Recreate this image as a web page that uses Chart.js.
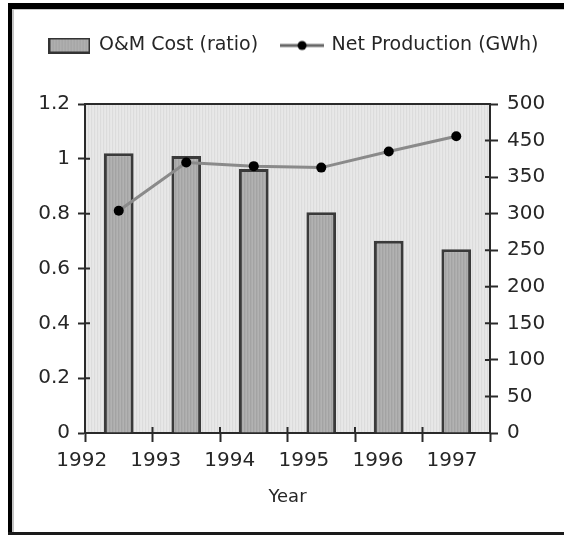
<!DOCTYPE html>
<html><head><meta charset="utf-8">
<script src="https://cdn.jsdelivr.net/npm/chart.js@4.4.1/dist/chart.umd.min.js"></script>
<style>
html,body{margin:0;padding:0;background:#fff;}
#wrap{position:relative;width:564px;height:535px;overflow:hidden;background:#fff;}
#c{position:absolute;left:0;top:0;}
.f{position:absolute;}
</style></head><body>
<div id="wrap">
<canvas id="c" width="564" height="535"></canvas>
<div class="f" style="left:8px;top:3px;width:556px;height:6px;background:#000"></div>
<div class="f" style="left:14px;top:9px;width:550px;height:1px;background:#c8c8c8"></div>
<div class="f" style="left:8px;top:3px;width:4px;height:532px;background:#000"></div>
<div class="f" style="left:12px;top:9px;width:2px;height:523px;background:#c4c4c4"></div>
<div class="f" style="left:8px;top:532px;width:556px;height:3px;background:#1a1a1a"></div>
</div>
<script>
// ---- data ----
const years = ['1992', '1993', '1994', '1995', '1996', '1997'];
const omCost = [1.02, 1.01, 0.963, 0.805, 0.701, 0.670];          // O&M Cost (ratio), left axis
const netProduction = [304, 370, 365, 363, 385, 406];             // Net Production, right-axis scale units
const leftTickLabels = ['0', '0.2', '0.4', '0.6', '0.8', '1', '1.2'];
const rightTickLabels = ['0', '50', '100', '150', '200', '250', '300', '350', '450', '500'];
const seriesNames = ['O&M Cost (ratio)', 'Net Production (GWh)'];

// ---- style ----
const FONT = 'DejaVu Sans';
const TEXT = '#262626';
const AXIS = '#2a2a2a';
const LEGEND_GAP = 39;

function stripes(colors) {
  const c = document.createElement('canvas');
  c.width = colors.length; c.height = 1;
  const x = c.getContext('2d');
  colors.forEach((col, i) => { x.fillStyle = col; x.fillRect(i, 0, 1, 1); });
  return x.createPattern(c, 'repeat');
}
const bgPattern = stripes(['#e8e8e8', '#dcdcdc', '#e6e6e6']);
const barPattern = stripes(['#b2b2b2', '#a3a3a3', '#acacac']);

function legendBoxImg() {
  const c = document.createElement('canvas'); c.width = 42; c.height = 16;
  const x = c.getContext('2d');
  x.fillStyle = barPattern; x.fillRect(0, 0, 42, 16);
  x.strokeStyle = '#333'; x.lineWidth = 2; x.strokeRect(1, 1, 40, 14);
  return c;
}
function legendLineImg() {
  const c = document.createElement('canvas'); c.width = 44; c.height = 12;
  const x = c.getContext('2d');
  x.strokeStyle = '#666'; x.lineWidth = 3;
  x.beginPath(); x.moveTo(0, 6); x.lineTo(44, 6); x.stroke();
  x.fillStyle = '#000'; x.beginPath(); x.arc(22, 6, 4.5, 0, Math.PI * 2); x.fill();
  return c;
}
const legendImgs = [legendBoxImg(), legendLineImg()];

const plotFrame = {
  id: 'plotFrame',
  beforeLayout(chart) {
    const lg = chart.legend;
    if (lg && !lg._gapWrapped) {
      const f = lg.fit;
      lg.fit = function () { f.call(this); this.height += LEGEND_GAP; };
      lg._gapWrapped = true;
    }
  },
  beforeDraw(chart) {
    const { ctx, chartArea: a } = chart;
    ctx.save();
    ctx.fillStyle = bgPattern;
    ctx.fillRect(a.left, a.top, a.right - a.left, a.bottom - a.top);
    ctx.restore();
  },
  afterDraw(chart) {
    const { ctx, chartArea: a, scales } = chart;
    ctx.save();
    ctx.strokeStyle = AXIS; ctx.lineWidth = 2;
    ctx.beginPath();
    ctx.moveTo(a.left - 1, a.top); ctx.lineTo(a.right + 1, a.top);
    scales.y.ticks.forEach((t, i) => { const p = scales.y.getPixelForTick(i); ctx.moveTo(a.left, p); ctx.lineTo(a.left + 5, p); });
    scales.y1.ticks.forEach((t, i) => { const p = scales.y1.getPixelForTick(i); ctx.moveTo(a.right - 5, p); ctx.lineTo(a.right, p); });
    scales.xt.ticks.forEach((t, i) => { const p = scales.xt.getPixelForTick(i); ctx.moveTo(p, a.bottom - 6); ctx.lineTo(p, a.bottom); });
    ctx.stroke();
    ctx.restore();
  }
};

Chart.defaults.font.family = FONT;
Chart.defaults.color = TEXT;

new Chart(document.getElementById('c'), {
  type: 'bar',
  data: {
    labels: years,
    datasets: [
      {
        type: 'bar', label: seriesNames[0], data: omCost,
        xAxisID: 'x', yAxisID: 'y', order: 1,
        backgroundColor: barPattern, borderColor: '#3a3a3a', borderWidth: 3,
        categoryPercentage: 1, barPercentage: 0.44
      },
      {
        type: 'line', label: seriesNames[1], data: netProduction,
        xAxisID: 'x', yAxisID: 'y1', order: 0,
        borderColor: '#8a8a8a', borderWidth: 3, tension: 0,
        pointRadius: 5, pointBackgroundColor: '#000', pointBorderColor: '#000', pointBorderWidth: 0
      }
    ]
  },
  options: {
    responsive: false,
    animation: false,
    devicePixelRatio: 1,
    layout: { padding: { left: 24, right: 0, top: 12, bottom: 27 } },
    plugins: {
      tooltip: { enabled: false },
      legend: {
        position: 'top', align: 'center',
        labels: {
          usePointStyle: true, pointStyleWidth: 40, boxHeight: 16, padding: 24,
          font: { family: FONT, size: 19 }, color: TEXT,
          generateLabels: (chart) => chart.data.datasets.map((ds, i) => ({
            text: ds.label, pointStyle: legendImgs[i], datasetIndex: i, hidden: false,
            fontColor: TEXT, lineWidth: 0, strokeStyle: 'transparent', fillStyle: 'transparent'
          }))
        }
      }
    },
    scales: {
      x: { type: 'category', display: false, offset: true },
      xt: {
        type: 'category', axis: 'x', position: 'bottom', weight: 0,
        labels: [...years, ''], offset: false,
        grid: { display: true, drawOnChartArea: false, tickLength: 9, tickWidth: 2, tickColor: AXIS, offset: false },
        border: { display: true, color: AXIS, width: 2 },
        ticks: { display: false },
        afterFit(s) { s.height = 9; },
        z: 1
      },
      xl: {
        type: 'linear', axis: 'x', position: 'bottom', weight: 1,
        min: 0, max: 5.4685, offset: false,
        grid: { display: false, drawTicks: false, offset: false },
        border: { display: false },
        ticks: {
          stepSize: 1, includeBounds: false, autoSkip: false, maxRotation: 0, padding: 7, labelOffset: -3.3,
          font: { size: 20 }, color: TEXT,
          callback: (v) => (years[v] !== undefined ? years[v] : '')
        },
        title: { display: true, text: 'Year', font: { size: 18 }, color: TEXT, padding: { top: 0, bottom: 0 } },
        afterFit(s) { s.height = 66; }
      },
      y: {
        position: 'left', min: 0, max: 1.2,
        ticks: { stepSize: 0.2, padding: 8, font: { size: 20 }, color: TEXT, callback: (v, i) => leftTickLabels[i] },
        grid: { drawOnChartArea: false, tickLength: 7, tickWidth: 2, tickColor: AXIS },
        border: { display: true, color: AXIS, width: 2 },
        afterFit(s) { s.width = 61; },
        z: 1
      },
      y1: {
        position: 'right', min: 0, max: 450,
        ticks: { stepSize: 50, padding: 9, font: { size: 20 }, color: TEXT, callback: (v, i) => rightTickLabels[i] },
        grid: { drawOnChartArea: false, tickLength: 8, tickWidth: 2, tickColor: AXIS },
        border: { display: true, color: AXIS, width: 2 },
        afterFit(s) { s.width = 74; },
        z: 1
      }
    }
  },
  plugins: [plotFrame]
});
</script>
</body></html>
